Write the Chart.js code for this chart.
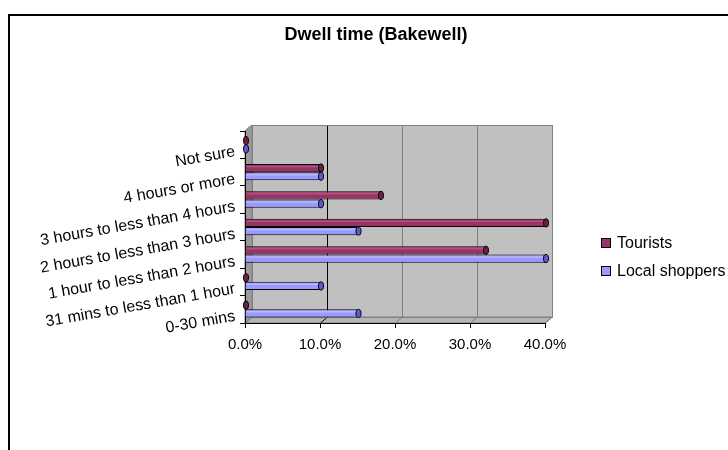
<!DOCTYPE html>
<html>
<head>
<meta charset="utf-8">
<script src="https://cdn.jsdelivr.net/npm/chart.js@4"></script>
<style>
  body { margin: 0; background: #fff; }
  #wrap { width: 728px; height: 450px; }
</style>
</head>
<body>
<div id="wrap"><canvas id="dwell"></canvas></div>
<script>
// categories listed top to bottom
var categories = [
    'Not sure',
    '4 hours or more',
    '3 hours to less than 4 hours',
    '2 hours to less than 3 hours',
    '1 hour to less than 2 hours',
    '31 mins to less than 1 hour',
    '0-30 mins'
];
var tourists = [0, 10, 18, 40, 32, 0, 0];
var localShoppers = [0, 10, 10, 15, 40, 10, 15];
var xTicks = [0, 10, 20, 30, 40];
var chartTitle = 'Dwell time (Bakewell)';

var FONT = '"Liberation Sans", Arial, sans-serif';
var DX = 7, DY = -6; // depth of the fake 3d box

var box3d = {
    id: 'box3d',
    beforeDraw: function (chart) {
        var c = chart.ctx, a = chart.chartArea, xs = chart.scales.x;
        c.save();
        // outer frame
        c.strokeStyle = '#000';
        c.lineWidth = 2;
        c.beginPath();
        c.moveTo(9, 460); c.lineTo(9, 15); c.lineTo(740, 15);
        c.stroke();
        // back wall
        c.fillStyle = '#c0c0c0';
        c.fillRect(a.left + DX, a.top + DY, a.width, a.height);
        // left wall
        c.fillStyle = '#9a9a9a';
        c.beginPath();
        c.moveTo(a.left, a.top); c.lineTo(a.left + DX, a.top + DY);
        c.lineTo(a.left + DX, a.bottom + DY); c.lineTo(a.left, a.bottom);
        c.closePath(); c.fill();
        c.strokeStyle = '#808080'; c.lineWidth = 1; c.stroke();
        // floor
        c.fillStyle = '#b4b4b4';
        c.beginPath();
        c.moveTo(a.left, a.bottom); c.lineTo(a.left + DX, a.bottom + DY);
        c.lineTo(a.right + DX, a.bottom + DY); c.lineTo(a.right, a.bottom);
        c.closePath(); c.fill(); c.stroke();
        // gridlines on back wall and floor
        xTicks.forEach(function (v) {
            var px = Math.round(xs.getPixelForValue(v)) + 0.5;
            c.strokeStyle = v === 10 ? '#000' : '#808080';
            c.lineWidth = 1;
            c.beginPath();
            c.moveTo(px + DX, a.top + DY); c.lineTo(px + DX, a.bottom + DY);
            c.lineTo(px, a.bottom);
            c.stroke();
        });
        c.strokeStyle = '#808080';
        c.strokeRect(a.left + DX + 0.5, a.top + DY + 0.5, a.width, a.height);
        c.beginPath();
        c.moveTo(a.left, a.top); c.lineTo(a.left + DX, a.top + DY);
        c.stroke();
        c.restore();
    },
    afterDatasetsDraw: function (chart) {
        var c = chart.ctx;
        c.save();
        chart.data.datasets.forEach(function (ds, i) {
            chart.getDatasetMeta(i).data.forEach(function (bar) {
                var h = bar.height, top = bar.y - h / 2;
                // highlight stripe
                if (bar.x - bar.base > 3) {
                    c.strokeStyle = ds.highlight;
                    c.lineWidth = 1.5;
                    c.beginPath();
                    c.moveTo(bar.base + 1, top + 2.5);
                    c.lineTo(bar.x - 1, top + 2.5);
                    c.stroke();
                }
                // rounded end cap
                c.fillStyle = ds.capColor;
                c.strokeStyle = '#000';
                c.lineWidth = 1;
                c.beginPath();
                c.ellipse(bar.x + 1, bar.y, 2.5, h / 2, 0, 0, Math.PI * 2);
                c.fill();
                c.stroke();
            });
        });
        c.restore();
    },
    afterDraw: function (chart) {
        var c = chart.ctx;
        c.save();
        // title, centred on the frame
        c.fillStyle = '#000';
        c.font = 'bold 18px ' + FONT;
        c.textAlign = 'center';
        c.textBaseline = 'middle';
        c.fillText(chartTitle, 376, 35);
        // legend
        c.textAlign = 'left';
        c.font = '16px ' + FONT;
        chart.data.datasets.forEach(function (ds, i) {
            var y = 243 + i * 28;
            c.fillStyle = ds.backgroundColor;
            c.fillRect(601.5, y - 4.5, 9, 9);
            c.strokeStyle = '#000';
            c.lineWidth = 1;
            c.strokeRect(601.5, y - 4.5, 9, 9);
            c.fillStyle = '#000';
            c.fillText(ds.label, 617, y + 1);
        });
        c.restore();
    }
};

new Chart(document.getElementById('dwell'), {
    type: 'bar',
    data: {
        labels: categories,
        datasets: [{
            label: 'Tourists',
            data: tourists,
            backgroundColor: '#993366',
            highlight: '#b3507f',
            capColor: '#6b1f45',
            borderColor: '#000',
            borderWidth: 1
        }, {
            label: 'Local shoppers',
            data: localShoppers,
            backgroundColor: '#9999ff',
            highlight: '#b8b8ff',
            capColor: '#5c5ccc',
            borderColor: '#000',
            borderWidth: 1
        }]
    },
    plugins: [box3d],
    options: {
        indexAxis: 'y',
        responsive: true,
        maintainAspectRatio: false,
        animation: false,
        categoryPercentage: 0.6,
        barPercentage: 1.0,
        layout: { padding: { left: 0, right: 183, top: 131, bottom: 97 } },
        plugins: {
            legend: { display: false },
            tooltip: { enabled: false },
            title: { display: false }
        },
        scales: {
            x: {
                min: 0,
                max: 40,
                afterFit: function (s) { s.height = 30; },
                afterBuildTicks: function (s) {
                    s.ticks = xTicks.map(function (v) { return { value: v }; });
                },
                grid: { drawOnChartArea: false, drawTicks: true, tickLength: 5, color: '#000' },
                border: { color: '#000', width: 1 },
                ticks: {
                    color: '#000',
                    padding: 8,
                    font: { family: FONT, size: 15 },
                    callback: function (v) { return v.toFixed(1) + '%'; }
                }
            },
            y: {
                afterFit: function (s) { s.width = 245; },
                grid: { drawOnChartArea: false, drawTicks: true, tickLength: 5, color: '#000' },
                border: { color: '#000', width: 1 },
                ticks: {
                    color: '#000',
                    padding: 5,
                    minRotation: 10,
                    maxRotation: 10,
                    labelOffset: 7,
                    font: { family: FONT, size: 16 }
                }
            }
        }
    }
});
</script>
</body>
</html>
